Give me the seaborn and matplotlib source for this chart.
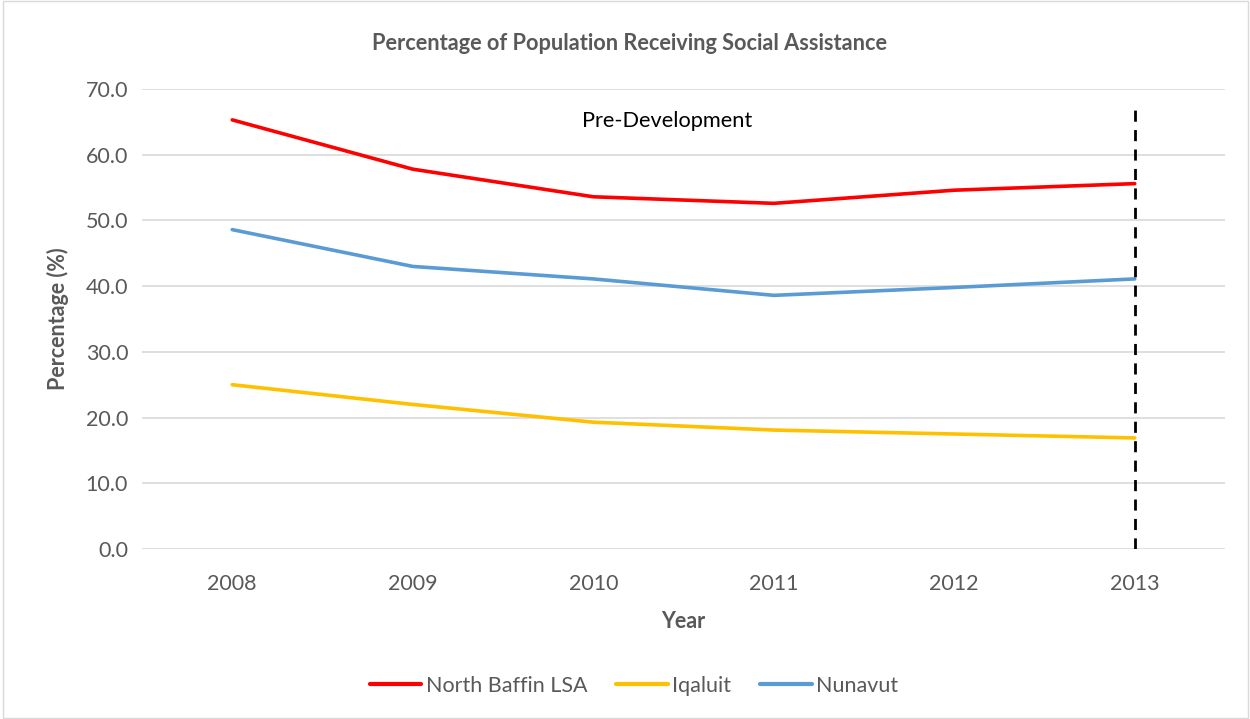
import matplotlib
matplotlib.use("Agg")
import matplotlib.pyplot as plt
import seaborn as sns
import pandas as pd

years = [2008, 2009, 2010, 2011, 2012, 2013]
north_baffin = [65.3, 57.8, 53.6, 52.6, 54.6, 55.6]
iqaluit = [25.0, 22.0, 19.3, 18.1, 17.5, 16.9]
nunavut = [48.6, 43.0, 41.1, 38.6, 39.8, 41.1]
series_names = ["North Baffin LSA", "Iqaluit", "Nunavut"]
colors = ["#FF0000", "#FFC000", "#5B9BD5"]

df = pd.concat([
    pd.DataFrame({"Year": years, "Value": vals, "Series": name})
    for name, vals in zip(series_names, [north_baffin, iqaluit, nunavut])
])

sns.set_theme(style="white")
plt.rcParams["font.family"] = ["Lato", "DejaVu Sans"]

fig = plt.figure(figsize=(12.5, 7.19), dpi=100)
ax = fig.add_axes([142/1250, 1 - 549/719, (1225-142)/1250, (549-89)/719])

sns.lineplot(data=df, x="Year", y="Value", hue="Series", palette=colors,
             hue_order=series_names, linewidth=2.6, ax=ax, legend=True)

ax.set_xlim(2007.5, 2013.5)
ax.set_ylim(0, 70)
ax.set_yticks([0, 10, 20, 30, 40, 50, 60, 70])
ax.set_yticklabels([f"{v:.1f}" for v in range(0, 80, 10)])
ax.set_xticks(years)
ax.set_xticklabels([str(y) for y in years])
ax.grid(axis="y", color="#D9D9D9", linewidth=1.2)
ax.set_axisbelow(True)
for s in ax.spines.values():
    s.set_visible(False)
ax.tick_params(axis="both", length=0, labelsize=15.5, colors="#595959")
ax.tick_params(axis="x", pad=18)
ax.tick_params(axis="y", pad=10)

ax.vlines(2013, 0, 67.2, colors="black", linestyles=(0, (4, 3)), linewidth=2)
ax.text(2010.41, 65.2, "Pre-Development", ha="center", va="center", fontsize=15.7, color="black")

ax.set_xlabel("Year", fontsize=15.5, fontweight="bold", color="#595959", labelpad=12)
ax.set_ylabel("Percentage (%)", fontsize=15.5, fontweight="bold", color="#595959", labelpad=12)
fig.text(630/1250, 1 - 43/719, "Percentage of Population Receiving Social Assistance",
         ha="center", va="center", fontsize=15.7, fontweight="bold", color="#595959")

ax.get_legend().remove()
handles, labels = ax.get_legend_handles_labels()
leg = fig.legend(handles, labels, loc="center", bbox_to_anchor=(634/1250, 1 - 686/719), ncol=3,
                 frameon=False, fontsize=15.5, handlelength=2.4, columnspacing=1.35,
                 handletextpad=0.2)
for t in leg.get_texts():
    t.set_color("#595959")
for l in leg.get_lines():
    l.set_linewidth(3)

border = plt.Rectangle((0.002, 0.002), 0.996, 0.996, transform=fig.transFigure,
                       fill=False, edgecolor="#D9D9D9", linewidth=1)
fig.patches.append(border)

fig.savefig("out.png", dpi=100)
